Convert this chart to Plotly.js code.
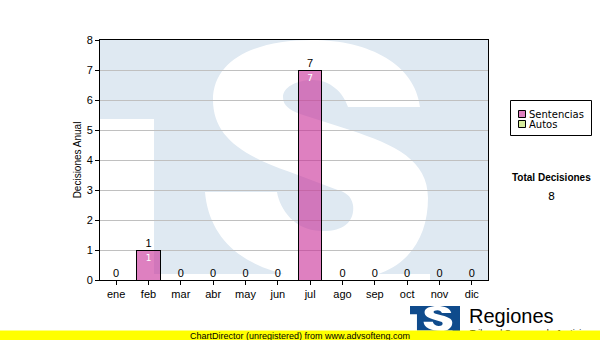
<!DOCTYPE html>
<html>
<head>
<meta charset="utf-8">
<script src="https://cdn.plot.ly/plotly-3.0.1.min.js"></script>
<style>
html,body{margin:0;padding:0;background:#fff;}
#chart{width:600px;height:340px;}
</style>
</head>
<body>
<div id="chart"></div>
<script>
// ---- data ----
var months = ['ene','feb','mar','abr','may','jun','jul','ago','sep','oct','nov','dic'];
var sentencias = [0,1,0,0,0,0,7,0,0,0,0,0];
var autos = [0,0,0,0,0,0,0,0,0,0,0,0];
var seriesNames = ['Sentencias','Autos'];
var seriesColors = ['rgba(200,43,150,0.6)', '#d6ec9c'];
var legendSwatch = ['#de80c0', '#d6ec9c'];
var totalLabel = 'Total Decisiones';
var yTitle = 'Decisiones Anual';
var yTicks = [0,1,2,3,4,5,6,7,8];

var totals = months.map(function(m,i){ return sentencias[i] + autos[i]; });
var grandTotal = totals.reduce(function(a,b){ return a+b; }, 0);

// ---- geometry helpers for the decorative watermark / logo / legend ----
var PL = 100, PR = 488, PT = 40, PB = 280;
function px2x(x){ return (x-PL)/(PR-PL); }
function px2y(y){ return (PB-y)/(PB-PT); }
function mapPath(str, fx){
  return str.replace(/(-?\d+\.?\d*),(-?\d+\.?\d*)/g, function(_, a, b){
    var p = fx(parseFloat(a), parseFloat(b));
    return px2x(p[0]).toFixed(5) + ',' + px2y(p[1]).toFixed(5);
  });
}
var S_PATH = 'M420,107 L348,107 C343,92 330,80 313,80 C295,80 283,88 283,97 C283,106 290,110 300,114 ' +
  'L350,130 C395,145 428,160 428,198 C428,245 400,280 340,280 C260,280 210,250 205,192 ' +
  'L277,192 C280,210 295,230 320,231 C345,232 355,220 353,205 C351,195 345,192 335,189 ' +
  'L290,172 C240,155 213,135 213,100 C213,60 255,40 312,40 C370,40 415,65 420,107 Z';
var T_PATH = 'M100,119 L154,119 L154,274 L430,274 L430,280 L100,280 Z';
var BOX_PATH = 'M100,40 L488,40 L488,280 L100,280 Z';

function ident(x,y){ return [x,y]; }
function logoFx(x,y){ return [410 + (x-100)*50/388, 306 + (y-40)*25/240]; }

function rectPx(x0,y0,x1,y1,fill,lineColor){
  return {type:'rect', xref:'paper', yref:'paper', x0:px2x(x0), x1:px2x(x1), y0:px2y(y1), y1:px2y(y0),
    fillcolor:fill, line:{color:lineColor||'rgba(0,0,0,0)', width:lineColor?1:0}, layer:'above'};
}

var shapes = [
  {type:'path', xref:'paper', yref:'paper', path: mapPath(BOX_PATH, ident), fillcolor:'#dfe9f2', line:{width:0}, layer:'below'},
  {type:'path', xref:'paper', yref:'paper', path: mapPath(T_PATH, ident), fillcolor:'#ffffff', line:{width:0}, layer:'below'},
  {type:'path', xref:'paper', yref:'paper', path: mapPath(S_PATH, ident), fillcolor:'#ffffff', line:{width:0}, layer:'below'},
  // logo
  {type:'path', xref:'paper', yref:'paper', path: mapPath(BOX_PATH, logoFx), fillcolor:'#0f4b8c', line:{width:0}, layer:'above'},
  {type:'path', xref:'paper', yref:'paper', path: mapPath(T_PATH, logoFx), fillcolor:'#ffffff', line:{width:0}, layer:'above'},
  {type:'path', xref:'paper', yref:'paper', path: mapPath(S_PATH, logoFx), fillcolor:'#ffffff', line:{width:0}, layer:'above'},
  // legend box and swatches
  rectPx(510.5, 100.5, 591.5, 135.5, 'rgba(0,0,0,0)', '#000000'),
  rectPx(518.5, 110.5, 525.5, 117.5, legendSwatch[0], '#000000'),
  rectPx(518.5, 120.5, 525.5, 127.5, legendSwatch[1], '#000000')
];

var traces = [
  {
    type:'bar', name: seriesNames[0], x: months, y: sentencias,
    text: sentencias.map(function(v){ return v > 0 ? String(v) : ''; }),
    textposition:'inside', insidetextanchor:'end', textangle:0,
    insidetextfont:{family:'DejaVu Sans, Verdana, sans-serif', size:9, color:'#ffffff'},
    marker:{color:seriesColors[0], line:{color:'#000000', width:1}},
    width:0.72, hoverinfo:'x+y'
  },
  {
    type:'bar', name: seriesNames[1], x: months, y: autos,
    marker:{color:seriesColors[1], line:{color:'#000000', width:1}},
    width:0.72, hoverinfo:'x+y'
  },
  {
    type:'scatter', mode:'text', x: months, y: totals,
    text: totals.map(String), textposition:'top center',
    textfont:{family:'Liberation Sans, Arial, sans-serif', size:11, color:'#000000'},
    showlegend:false, hoverinfo:'skip', cliponaxis:false
  }
];

var legendFont = {family:'DejaVu Sans, Verdana, sans-serif', size:10, color:'#000000'};

var layout = {
  width:600, height:340,
  margin:{l:PL, r:600-PR, t:PT, b:340-PB},
  paper_bgcolor:'#ffffff', plot_bgcolor:'rgba(0,0,0,0)',
  barmode:'stack',
  showlegend:false,
  font:{family:'Liberation Sans, Arial, sans-serif', size:11, color:'#000000'},
  xaxis:{
    type:'category', range:[-0.5, 11.5], showgrid:false,
    showline:true, linecolor:'#000000', linewidth:1, mirror:true,
    ticks:'outside', ticklen:4, tickcolor:'#000000', tickwidth:1,
    tickfont:{family:'Liberation Sans, Arial, sans-serif', size:11, color:'#000000'},
    fixedrange:true, automargin:false
  },
  yaxis:{
    range:[0,8], tickvals: yTicks, ticktext: yTicks.map(String),
    showgrid:true, gridcolor:'#c0c0c0', gridwidth:1, zeroline:false,
    showline:true, linecolor:'#000000', linewidth:1, mirror:true,
    ticks:'outside', ticklen:4, tickcolor:'#000000', tickwidth:1,
    tickfont:{family:'Liberation Sans, Arial, sans-serif', size:11, color:'#000000'},
    title:{text: yTitle, font:{family:'Liberation Sans, Arial, sans-serif', size:10, color:'#000000'}, standoff:3},
    fixedrange:true, automargin:false
  },
  shapes: shapes,
  annotations:[
    {xref:'paper', yref:'paper', x:px2x(527), y:px2y(114), xanchor:'left', yanchor:'middle',
     text:seriesNames[0], showarrow:false, font:legendFont},
    {xref:'paper', yref:'paper', x:px2x(527), y:px2y(124), xanchor:'left', yanchor:'middle',
     text:seriesNames[1], showarrow:false, font:legendFont},
    {xref:'paper', yref:'paper', x:px2x(551), y:px2y(177), xanchor:'center', yanchor:'middle',
     text:'<b>'+totalLabel+'</b>', showarrow:false,
     font:{family:'Liberation Sans, Arial, sans-serif', size:10, color:'#000000'}},
    {xref:'paper', yref:'paper', x:px2x(551), y:px2y(196), xanchor:'center', yanchor:'middle',
     text:String(grandTotal), showarrow:false,
     font:{family:'DejaVu Sans, Verdana, sans-serif', size:11, color:'#000000'}},
    {xref:'paper', yref:'paper', x:px2x(467), y:px2y(316), xanchor:'left', yanchor:'middle',
     text:'Regiones', showarrow:false,
     font:{family:'Liberation Sans, Arial, sans-serif', size:20, color:'#000000'}},
    {xref:'paper', yref:'paper', x:px2x(468), y:px2y(333), xanchor:'left', yanchor:'middle',
     text:'Tribunal Supremo de Justicia', showarrow:false,
     font:{family:'Liberation Sans, Arial, sans-serif', size:9, color:'#000000'}},
    {xref:'paper', yref:'paper', x:px2x(300), y:px2y(335.5), xanchor:'center', yanchor:'middle',
     text:'ChartDirector (unregistered) from www.advsofteng.com', showarrow:false,
     width:600, height:9, bgcolor:'#ffff00', borderpad:0,
     font:{family:'Liberation Sans, Arial, sans-serif', size:9, color:'#000000'}}
  ]
};

Plotly.newPlot('chart', traces, layout, {staticPlot:true, displayModeBar:false});
</script>
</body>
</html>
